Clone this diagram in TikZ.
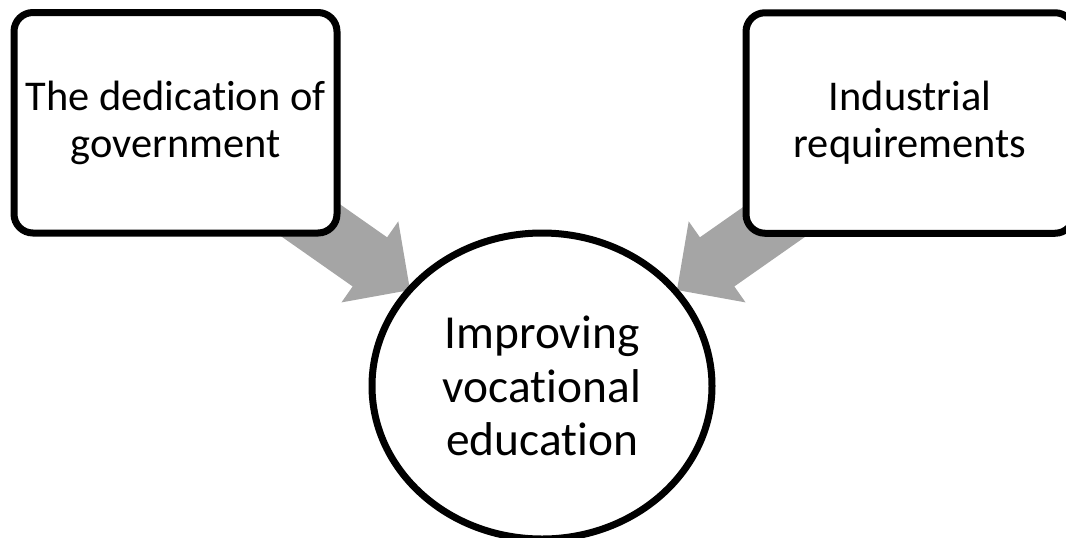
\documentclass[tikz,border=0pt]{standalone}
\usepackage{fontspec}
\setmainfont{Carlito}[Ligatures={NoCommon}]
\usetikzlibrary{shapes.geometric,calc,backgrounds}
\definecolor{arrowgray}{HTML}{A5A5A5}
\tikzset{
  boxnode/.style={draw=black, line width=3.5pt, rounded corners=9.5pt, fill=white,
    align=center, inner sep=0pt, font=\fontsize{21.2}{23.5}\selectfont},
  ovalnode/.style={ellipse, draw=black, line width=3.5pt, fill=white,
    align=center, inner sep=0pt, font=\fontsize{23.7}{26.75}\selectfont},
  blockarrow/.style={fill=arrowgray, draw=none}
}
\begin{document}
\begin{tikzpicture}[x=0.5pt,y=-0.5pt]
\useasboundingbox (0,0) rectangle (1066,537);
\clip (0,0) rectangle (1066,537);
\node[boxnode, minimum width=161.5pt, minimum height=110.25pt] (gov) at (175.5,122.75)
  {The dedication of\\government};
\node[boxnode, minimum width=164pt, minimum height=110.25pt] (ind) at (910,123)
  {Industrial\\requirements};
\node[ovalnode, minimum width=170pt, minimum height=153pt] (ive) at (542,386)
  {Improving\\vocational\\education};
\coordinate (s1) at (270.8,192.4);
\coordinate (t1) at (410,290);
\coordinate (s2) at (816.2,192.4);
\coordinate (t2) at (677,290);
\begin{scope}[on background layer]
\foreach \s/\t in {s1/t1, s2/t2}{
  \coordinate (h) at ($(\t)!24.5pt!(\s)$);
  \fill[blockarrow] ($(\s)!15pt!90:(\t)$) -- ($(h)!15pt!90:(\t)$) -- ($(h)!24.75pt!90:(\t)$)
    -- (\t) -- ($(h)!24.75pt!-90:(\t)$) -- ($(h)!15pt!-90:(\t)$) -- ($(\s)!15pt!-90:(\t)$) -- cycle;
}
\end{scope}
\end{tikzpicture}
\end{document}
